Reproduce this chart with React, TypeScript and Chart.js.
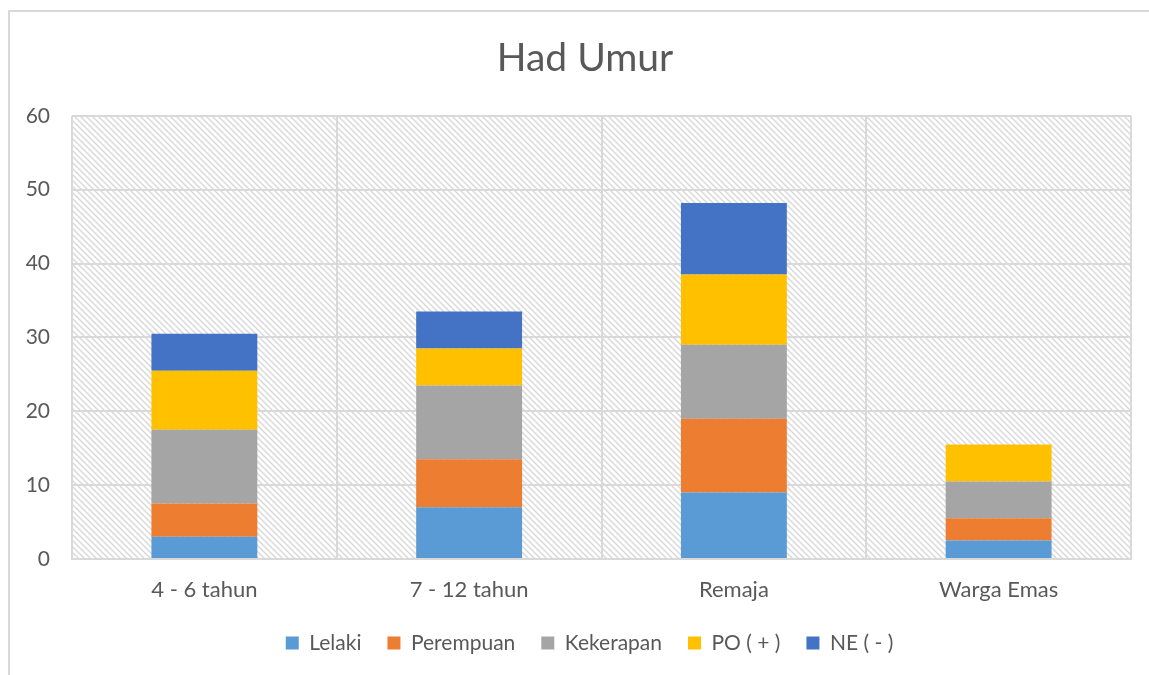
import React, { useEffect, useRef } from "react";
import { Chart, registerables } from "chart.js";

Chart.register(...registerables);

const categories = ["4 - 6 tahun", "7 - 12 tahun", "Remaja", "Warga Emas"];
const lelaki = [3, 7, 9, 2.5];
const perempuan = [4.5, 6.5, 10, 3];
const kekerapan = [10, 10, 10, 5];
const poPlus = [8, 5, 9.5, 5];
const neMinus = [5, 5, 9.7, 0];
const yTicks = [0, 10, 20, 30, 40, 50, 60];

const FONT = "Lato, 'Open Sans', sans-serif";
const TEXT = "#595959";
const GRID = "#d9d9d9";

function makePattern(): CanvasPattern | string {
  const n = 6;
  const c = document.createElement("canvas");
  c.width = n;
  c.height = n;
  const g = c.getContext("2d");
  if (!g) return "#ffffff";
  g.fillStyle = "#ffffff";
  g.fillRect(0, 0, n, n);
  g.strokeStyle = "#d8d8d8";
  g.lineWidth = 1.4;
  g.beginPath();
  g.moveTo(-2, -2);
  g.lineTo(n + 2, n + 2);
  g.moveTo(-2, n - 2);
  g.lineTo(2, n + 2);
  g.moveTo(n - 2, -2);
  g.lineTo(n + 2, 2);
  g.stroke();
  const p = g.createPattern(c, "repeat");
  return p || "#ffffff";
}

const hatchPlugin = {
  id: "hatchBg",
  afterLayout(chart: any) {
    const t = chart.titleBlock;
    if (t) t.left += 39;
    const l = chart.legend;
    if (l) {
      l.left += 24;
      l.right += 24;
    }
  },
  beforeDraw(chart: any) {
    const { ctx, chartArea } = chart;
    if (!chartArea) return;
    ctx.save();
    ctx.fillStyle = makePattern();
    ctx.fillRect(chartArea.left, chartArea.top, chartArea.right - chartArea.left, chartArea.bottom - chartArea.top);
    ctx.restore();
  },
};

export default function App() {
  const ref = useRef<HTMLCanvasElement | null>(null);

  useEffect(() => {
    if (!ref.current) return;
    const mk = (label: string, data: number[], color: string) => ({
      label,
      data,
      backgroundColor: color,
      borderWidth: 0,
      categoryPercentage: 1,
      barPercentage: 0.4,
    });
    const chart = new Chart(ref.current, {
      type: "bar",
      data: {
        labels: categories,
        datasets: [
          mk("Lelaki", lelaki, "#5B9BD5"),
          mk("Perempuan", perempuan, "#ED7D31"),
          mk("Kekerapan", kekerapan, "#A5A5A5"),
          mk("PO ( + )", poPlus, "#FFC000"),
          mk("NE ( - )", neMinus, "#4472C4"),
        ],
      },
      options: {
        animation: false,
        responsive: false,
        maintainAspectRatio: false,
        layout: { padding: { left: 0, right: 18, top: 12, bottom: 11.5 } },
        plugins: {
          title: {
            display: true,
            text: "Had Umur",
            color: TEXT,
            font: { family: FONT, size: 39, weight: "normal" },
            padding: { top: 23, bottom: 34 },
          },
          legend: {
            position: "bottom",
            labels: {
              boxWidth: 13,
              boxHeight: 13,
              color: TEXT,
              padding: 26,
              font: { family: FONT, size: 21 },
            },
          },
          tooltip: { enabled: false },
        },
        scales: {
          x: {
            stacked: true,
            grid: { color: GRID, lineWidth: 2, drawTicks: false, offset: true },
            border: { display: true, color: GRID, width: 2 },
            ticks: { color: TEXT, padding: 18, font: { family: FONT, size: 22 } },
            afterFit: (s: any) => {
              s.height = 47.5;
            },
          },
          y: {
            stacked: true,
            min: 0,
            max: 60,
            afterBuildTicks: (s: any) => {
              s.ticks = yTicks.map((v) => ({ value: v }));
            },
            grid: { color: GRID, lineWidth: 2, drawTicks: false },
            border: { display: false },
            ticks: { color: TEXT, padding: 22, font: { family: FONT, size: 21 } },
            afterFit: (s: any) => {
              s.width = 72;
            },
          },
        },
      },
      plugins: [hatchPlugin],
    } as any);
    return () => chart.destroy();
  }, []);

  return (
    <div style={{ position: "absolute", left: 0, top: 0, width: 1149, height: 675, background: "#fff", overflow: "hidden" }}>
      <div
        style={{
          position: "absolute",
          left: 8,
          top: 10,
          width: 1300,
          height: 800,
          borderLeft: "2px solid #d9d9d9",
          borderTop: "2px solid #d9d9d9",
        }}
      />
      <canvas ref={ref} width={1149} height={675} style={{ position: "absolute", left: 0, top: 0, width: 1149, height: 675 }} />
    </div>
  );
}
